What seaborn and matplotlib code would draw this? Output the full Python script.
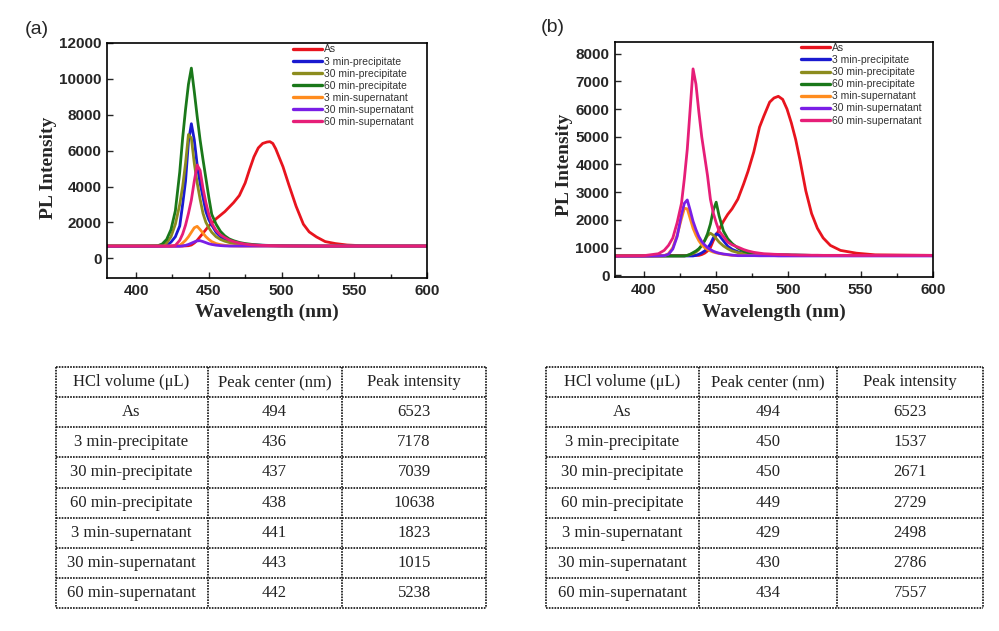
import matplotlib
matplotlib.use("Agg")
import matplotlib.pyplot as plt
import numpy as np
import pandas as pd
import seaborn as sns
from matplotlib.lines import Line2D
from matplotlib.ticker import MultipleLocator

# ---------------- data ----------------
series_names = ["As", "3 min-precipitate", "30 min-precipitate", "60 min-precipitate",
                "3 min-supernatant", "30 min-supernatant", "60 min-supernatant"]
series_colors = ["#e8141e", "#1a1ad0", "#8c8c1e", "#1a781a", "#ff8c1e", "#7a1ee6", "#e61e78"]

# Panel (a)
wl_a = [380, 400, 410, 415, 418, 421, 424, 427, 430, 432, 434, 436, 438, 440, 442, 444,
        446, 448, 450, 452, 455, 458, 461, 464, 467, 471, 475, 478, 481, 484, 487, 490,
        492, 494, 496, 498, 501, 505, 510, 515, 519, 524, 530, 537, 545, 555, 570, 600]
as_a = [680, 680, 680, 680, 680, 680, 680, 680, 680, 680, 690, 700, 740, 850, 1000, 1200,
        1400, 1600, 1800, 1950, 2200, 2400, 2600, 2850, 3100, 3500, 4200, 4950, 5650, 6150, 6400, 6480,
        6500, 6400, 6100, 5700, 5100, 4100, 2900, 1900, 1470, 1190, 930, 820, 740, 700, 690, 680]
p3_a = [680, 680, 680, 680, 690, 720, 900, 1200, 1800, 3000, 4300, 6500, 7500, 6600, 5200, 4200,
        3400, 2600, 2150, 1850, 1450, 1200, 1050, 950, 880, 820, 780, 760, 745, 735, 725, 720,
        715, 710, 705, 700, 700, 695, 690, 690, 685, 685, 680, 680, 680, 680, 680, 680]
p30_a = [680, 680, 680, 680, 720, 850, 1200, 1900, 3000, 4000, 5300, 6900, 6700, 5300, 4200, 3300,
         2500, 2000, 1700, 1450, 1200, 1050, 950, 880, 830, 780, 750, 730, 720, 715, 710, 705,
         700, 700, 695, 690, 690, 685, 685, 680, 680, 680, 680, 680, 680, 680, 680, 680]
p60_a = [680, 680, 690, 700, 800, 1050, 1600, 2650, 4800, 6700, 8300, 9700, 10600, 9300, 7900, 6600,
         5500, 4450, 3400, 2450, 1900, 1500, 1250, 1080, 980, 880, 820, 790, 760, 740, 725, 715,
         710, 705, 700, 700, 695, 690, 690, 685, 685, 680, 680, 680, 680, 680, 680, 680]
s3_a = [680, 680, 680, 680, 680, 680, 680, 680, 720, 850, 1000, 1200, 1450, 1700, 1780, 1600,
        1400, 1200, 1050, 930, 820, 760, 720, 700, 690, 680, 680, 680, 680, 680, 680, 680,
        680, 680, 680, 680, 680, 680, 680, 680, 680, 680, 680, 680, 680, 680, 680, 680]
s30_a = [670, 670, 670, 670, 670, 670, 670, 670, 670, 690, 720, 770, 840, 910, 970, 980,
         930, 870, 810, 770, 730, 705, 690, 680, 680, 680, 680, 680, 680, 680, 680, 680,
         680, 680, 680, 680, 680, 680, 680, 680, 680, 680, 680, 680, 680, 680, 680, 680]
s60_a = [680, 680, 680, 680, 680, 680, 680, 720, 1000, 1350, 1850, 2500, 3250, 4300, 5200, 4900,
         3900, 3100, 2450, 1950, 1550, 1300, 1150, 1020, 930, 850, 790, 760, 740, 725, 715, 710,
         705, 700, 700, 695, 690, 690, 685, 685, 680, 680, 680, 680, 680, 680, 680, 680]

# Panel (b)
wl_b = [380, 400, 410, 414, 417, 420, 423, 426, 428, 430, 432, 434, 436, 438, 440, 442,
        444, 446, 448, 450, 452, 455, 458, 461, 465, 469, 472, 476, 480, 483, 487, 490,
        493, 496, 499, 502, 505, 508, 512, 516, 520, 524, 529, 536, 547, 560, 600]
as_b = [720, 720, 720, 720, 720, 720, 720, 720, 720, 720, 720, 720, 720, 720, 750, 800,
        880, 1000, 1250, 1450, 1650, 1950, 2200, 2400, 2750, 3300, 3750, 4450, 5350, 5750, 6250, 6400,
        6460, 6350, 6000, 5500, 4900, 4150, 3050, 2230, 1700, 1350, 1080, 900, 800, 740, 720]
p3_b = [700, 700, 700, 700, 700, 700, 700, 700, 700, 700, 700, 700, 720, 760, 810, 880,
        980, 1130, 1350, 1500, 1450, 1250, 1050, 940, 850, 800, 780, 760, 740, 740, 735, 735,
        730, 730, 730, 725, 725, 725, 720, 720, 720, 720, 720, 720, 720, 720, 720]
p30_b = [700, 700, 700, 700, 700, 700, 700, 700, 700, 720, 750, 790, 840, 930, 1080, 1250,
         1430, 1520, 1450, 1330, 1200, 1060, 960, 880, 820, 780, 760, 745, 740, 740, 735, 735,
         730, 730, 730, 725, 725, 725, 720, 720, 720, 720, 720, 720, 720, 720, 720]
p60_b = [700, 700, 700, 700, 700, 700, 700, 700, 700, 720, 760, 820, 880, 960, 1080, 1250,
         1500, 1850, 2350, 2640, 2150, 1600, 1320, 1150, 980, 870, 820, 780, 760, 750, 745, 740,
         740, 735, 735, 730, 730, 725, 725, 720, 720, 720, 720, 720, 720, 720, 720]
s3_b = [700, 700, 700, 710, 780, 1000, 1450, 2050, 2420, 2400, 2050, 1700, 1450, 1250, 1100, 1000,
        930, 880, 840, 810, 790, 760, 740, 720, 720, 720, 720, 720, 720, 720, 720, 720,
        720, 720, 720, 720, 720, 720, 720, 720, 720, 720, 720, 720, 720, 720, 720]
s30_b = [690, 690, 700, 710, 760, 950, 1400, 2200, 2600, 2720, 2350, 1950, 1650, 1400, 1220, 1100,
         1000, 930, 870, 830, 800, 770, 750, 730, 710, 710, 710, 710, 705, 705, 705, 705,
         700, 700, 700, 700, 700, 700, 700, 700, 700, 700, 700, 700, 700, 700, 700]
s60_b = [700, 710, 780, 900, 1080, 1350, 1900, 2600, 3500, 4550, 6000, 7450, 6900, 5900, 5000, 4300,
         3600, 2750, 2250, 1900, 1600, 1400, 1200, 1100, 1020, 930, 880, 830, 800, 780, 770, 760,
         755, 750, 745, 740, 735, 730, 730, 725, 725, 720, 720, 720, 720, 720, 720]

# Tables
table_headers = ["HCl volume (\u03bcL)", "Peak center (nm)", "Peak intensity"]
table_rows = series_names
center_a = [494, 436, 437, 438, 441, 443, 442]
intensity_a = [6523, 7178, 7039, 10638, 1823, 1015, 5238]
center_b = [494, 450, 450, 449, 429, 430, 434]
intensity_b = [6523, 1537, 2671, 2729, 2498, 2786, 7557]

yticks_a = [0, 2000, 4000, 6000, 8000, 10000, 12000]
yticks_b = [0, 1000, 2000, 3000, 4000, 5000, 6000, 7000, 8000]
xticks = [400, 450, 500, 550, 600]

# ---------------- styling ----------------
sns.set_style("ticks")
plt.rcParams["font.family"] = ["Liberation Sans", "DejaVu Sans"]
plt.rcParams["axes.linewidth"] = 1.2

W, H = 999, 631
fig = plt.figure(figsize=(W / 100, H / 100), dpi=100)
fig.patch.set_facecolor("white")


def to_long(wl, arrays):
    frames = []
    for name, vals in zip(series_names, arrays):
        frames.append(pd.DataFrame({"wl": wl, "val": vals, "sample": name}))
    return pd.concat(frames, ignore_index=True)


df_a = to_long(wl_a, [as_a, p3_a, p30_a, p60_a, s3_a, s30_a, s60_a])
df_b = to_long(wl_b, [as_b, p3_b, p30_b, p60_b, s3_b, s30_b, s60_b])
palette = dict(zip(series_names, series_colors))


def px_axes(left, top, right, bottom):
    return fig.add_axes([left / W, 1 - bottom / H, (right - left) / W, (bottom - top) / H])


ax_a = px_axes(107, 43, 427, 278)
ax_b = px_axes(615, 42, 933, 277)

panels = [
    (ax_a, df_a, (-1100, 12000), yticks_a, (-0.156, 0.47), (0.5, -0.11), (293, 44.5)),
    (ax_b, df_b, (-60, 8420), yticks_b, (-0.132, 0.475), (0.5, -0.115), (801, 43)),
]

for ax, df, ylim, yt, ylab_pos, xlab_pos, leg_xy in panels:
    sns.lineplot(data=df, x="wl", y="val", hue="sample", hue_order=series_names,
                 palette=palette, estimator=None, sort=True, linewidth=2.0,
                 legend=False, ax=ax)
    ax.set_xlim(380, 600)
    ax.set_ylim(*ylim)
    ax.set_xticks(xticks)
    ax.set_yticks(yt)
    ax.xaxis.set_minor_locator(MultipleLocator(25))
    ax.tick_params(which="both", direction="in", width=1, labelsize=11, pad=4)
    ax.tick_params(which="major", length=4)
    ax.tick_params(which="minor", length=3)
    for lbl in ax.get_xticklabels() + ax.get_yticklabels():
        lbl.set_fontweight("bold")
    for sp in ax.spines.values():
        sp.set_visible(True)
        sp.set_color("black")
        sp.set_linewidth(1.2)
    ax.set_xlabel("Wavelength (nm)", fontsize=14, fontweight="bold", family="Liberation Serif")
    ax.set_ylabel("PL Intensity", fontsize=14, fontweight="bold", family="Liberation Serif")
    ax.yaxis.set_label_coords(*ylab_pos)
    ax.xaxis.set_label_coords(*xlab_pos)
    handles = [Line2D([0], [0], color=c, lw=2.4) for c in series_colors]
    ax.legend(handles, series_names, loc="upper left",
              bbox_to_anchor=(leg_xy[0] / W, 1 - leg_xy[1] / H), bbox_transform=fig.transFigure,
              frameon=False, fontsize=7.5, handlelength=2.8, handletextpad=0.2,
              labelspacing=0.2, borderpad=0, borderaxespad=0, labelcolor="#333333")

fig.text(25 / W, 1 - 29 / H, "(a)", fontsize=14, ha="left", va="center")
fig.text(541 / W, 1 - 28 / H, "(b)", fontsize=14, ha="left", va="center")


def draw_table(left, right, top, bottom, col_fracs, centers, intensities):
    tax = px_axes(left, top, right, bottom)
    tax.set_xlim(0, 1)
    tax.set_ylim(8, 0)
    tax.axis("off")
    kw = dict(color="#111111", lw=1.2, linestyle=(0, (1, 0.7)), clip_on=False)
    for r in range(9):
        tax.plot([0, 1], [r, r], **kw)
    for c in [0] + col_fracs + [1]:
        tax.plot([c, c], [0, 8], **kw)
    edges = [0] + col_fracs + [1]
    mids = [(edges[i] + edges[i + 1]) / 2 for i in range(3)]
    tkw = dict(ha="center", va="center", fontsize=12, family="Liberation Serif", color="#222222")
    for i, h in enumerate(table_headers):
        tax.text(mids[i], 0.5, h, **tkw)
    for r, (name, c, v) in enumerate(zip(table_rows, centers, intensities)):
        y = r + 1.5
        tax.text(mids[0], y, name, **tkw)
        tax.text(mids[1], y, str(c), **tkw)
        tax.text(mids[2], y, str(v), **tkw)


draw_table(55.5, 486.5, 367, 608, [0.3527, 0.664], center_a, intensity_a)
draw_table(546, 983, 367, 608, [0.349, 0.667], center_b, intensity_b)

fig.savefig("out.png", dpi=100, facecolor="white")
